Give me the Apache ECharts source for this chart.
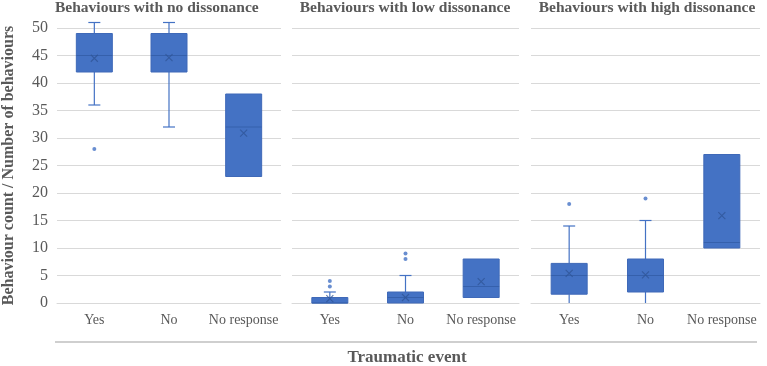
<!DOCTYPE html>
<html>
<head>
<meta charset="utf-8">
<script src="https://cdn.jsdelivr.net/npm/echarts@6/dist/echarts.min.js"></script>
<style>html,body{margin:0;padding:0;background:#fff}#c{width:767px;height:366px}</style>
</head>
<body>
<div id="c"></div>
<script>
const categories = ['Yes', 'No', 'No response'];
const panelTitles = ['Behaviours with no dissonance', 'Behaviours with low dissonance', 'Behaviours with high dissonance'];
const yTicks = { min: 0, max: 50, interval: 5 };
// [min, Q1, median, Q3, max]
const boxNo = [[36, 42, 45, 49, 51], [32, 42, 45, 49, 51], [23, 23, 32, 38, 38]];
const boxLow = [[0, 0, 0, 1, 2], [0, 0, 1, 2, 5], [1, 1, 3, 8, 8]];
const boxHigh = [[0, 1.6, 5, 7.2, 14], [0, 2, 5, 8, 15], [10, 10, 11, 27, 27]];
const meanNo = [44.5, 44.6, 30.9];
const meanLow = [0.8, 1.0, 3.9];
const meanHigh = [5.4, 5.1, 15.9];
const outNo = [['Yes', 28]];
const outLow = [['Yes', 3], ['Yes', 4], ['No', 8], ['No', 9]];
const outHigh = [['Yes', 18], ['No', 19]];

const boxes = [boxNo, boxLow, boxHigh];
const means = [meanNo, meanLow, meanHigh];
const outs = [outNo, outLow, outHigh];

const serif = '"Liberation Serif", "Times New Roman", serif';
const grey = '#595959';
const blue = '#4472C4';

const grids = [
  { left: 53, width: 228, top: 28, bottom: 63 },
  { left: 292, width: 227, top: 28, bottom: 63 },
  { left: 531, width: 229, top: 28, bottom: 63 }
];

function renderBox(params, api) {
  const idx = api.value(0);
  const mn = api.coord([idx, api.value(1)]);
  const q1 = api.coord([idx, api.value(2)]);
  const md = api.coord([idx, api.value(3)]);
  const q3 = api.coord([idx, api.value(4)]);
  const mx = api.coord([idx, api.value(5)]);
  const bw = 36, cap = 6;
  const x = mn[0];
  const children = [];
  const wStyle = { stroke: blue, lineWidth: 1.2 };
  if (mx[1] < q3[1] - 0.5) {
    children.push({ type: 'line', shape: { x1: x, y1: mx[1], x2: x, y2: q3[1] }, style: wStyle });
    children.push({ type: 'line', shape: { x1: x - cap, y1: mx[1], x2: x + cap, y2: mx[1] }, style: wStyle });
  }
  if (mn[1] > q1[1] + 0.5) {
    children.push({ type: 'line', shape: { x1: x, y1: q1[1], x2: x, y2: mn[1] }, style: wStyle });
    if (api.value(1) > yTicks.min) {
      children.push({ type: 'line', shape: { x1: x - cap, y1: mn[1], x2: x + cap, y2: mn[1] }, style: wStyle });
    }
  }
  children.push({ type: 'rect', shape: { x: x - bw / 2, y: q3[1], width: bw, height: Math.max(q1[1] - q3[1], 1) },
    style: { fill: blue, stroke: '#3F69B8', lineWidth: 1 } });
  children.push({ type: 'line', shape: { x1: x - bw / 2, y1: md[1], x2: x + bw / 2, y2: md[1] },
    style: { stroke: '#3560AC', lineWidth: 1 } });
  return { type: 'group', children: children };
}

const xAxes = [], yAxes = [], series = [];
for (let i = 0; i < 3; i++) {
  xAxes.push({
    type: 'category', gridIndex: i, data: categories,
    axisLine: { show: true, lineStyle: { color: '#d9d9d9' } },
    axisTick: { show: false },
    axisLabel: { color: grey, fontFamily: serif, fontSize: 14, margin: 10, interval: 0 }
  });
  yAxes.push({
    type: 'value', gridIndex: i, min: yTicks.min, max: yTicks.max, interval: yTicks.interval,
    axisLine: { show: false }, axisTick: { show: false },
    splitLine: { lineStyle: { color: '#d9d9d9' } },
    axisLabel: { show: i === 0, color: grey, fontFamily: serif, fontSize: 16, margin: 9 },
    name: i === 0 ? 'Behaviour count / Number of behaviours' : '',
    nameLocation: 'middle', nameGap: 40,
    nameTextStyle: { color: grey, fontFamily: serif, fontSize: 16, fontWeight: 'bold' }
  });
  series.push({
    type: 'custom', xAxisIndex: i, yAxisIndex: i,
    data: boxes[i].map((b, k) => [k].concat(b)),
    renderItem: renderBox,
    encode: { x: 0, y: [1, 2, 3, 4, 5] },
    z: 3, silent: true
  });
  series.push({
    type: 'scatter', xAxisIndex: i, yAxisIndex: i,
    data: means[i].map((v, k) => [categories[k], v]),
    symbol: 'path://M0,0L10,10M10,0L0,10', symbolSize: 7,
    itemStyle: { color: 'none', borderColor: '#2F5597', borderWidth: 1.1 },
    z: 5, silent: true
  });
  series.push({
    type: 'scatter', xAxisIndex: i, yAxisIndex: i,
    data: outs[i], symbol: 'circle', symbolSize: 4,
    itemStyle: { color: blue }, z: 5, silent: true
  });
}

const titles = [
  { text: panelTitles[0], left: 55, top: 0 },
  { text: panelTitles[1], left: 405, top: 0, textAlign: 'center' },
  { text: panelTitles[2], left: 647, top: 0, textAlign: 'center' }
].map(t => Object.assign(t, { padding: [0, 0, 0, 0], textStyle: { color: grey, fontFamily: serif, fontSize: 15.5, fontWeight: 'bold' } }));

const chart = echarts.init(document.getElementById('c'), null, { renderer: 'canvas' });
chart.setOption({
  animation: false,
  title: titles,
  grid: grids,
  xAxis: xAxes,
  yAxis: yAxes,
  series: series,
  graphic: [
    { type: 'line', shape: { x1: 55, y1: 342, x2: 757, y2: 342 }, style: { stroke: '#bfbfbf', lineWidth: 1.5 } },
    { type: 'text', x: 407, y: 349, style: { text: 'Traumatic event', fill: grey, font: 'bold 17px ' + serif, textAlign: 'center' } }
  ]
});
</script>
</body>
</html>
